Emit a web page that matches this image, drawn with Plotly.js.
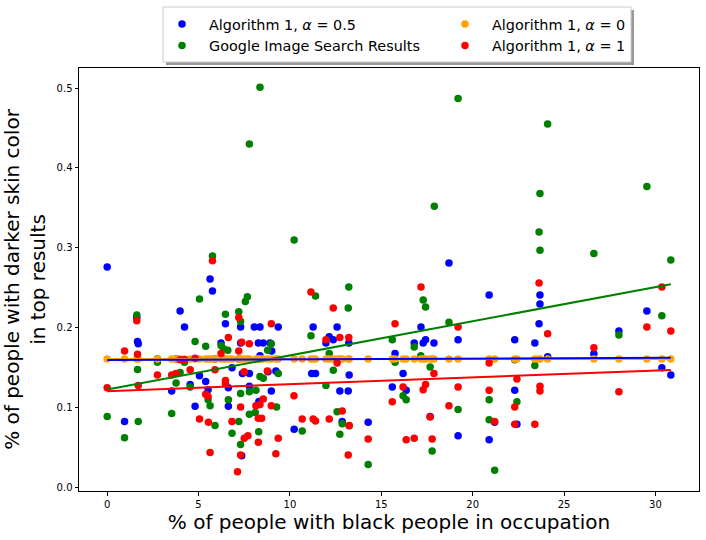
<!DOCTYPE html>
<html>
<head>
<meta charset="utf-8">
<script src="https://cdn.plot.ly/plotly-3.0.1.min.js"></script>
<style>html,body{margin:0;padding:0;background:#fff;}#chart{width:706px;height:540px;}</style>
</head>
<body>
<div id="chart"></div>
<script>
// Algorithm 1, alpha = 0.5 (blue)
const blueX = [0, 0.95, 1.62, 1.66, 1.70, 2.75, 3.53, 3.77, 3.99, 4.23, 4.54, 4.81, 5.05, 5.39, 5.52, 5.63, 5.76, 5.9, 6.23, 6.47, 6.63, 6.63, 6.83, 7.2, 7.3, 7.3, 7.36, 7.4, 7.78, 7.78, 8.05, 8.27, 8.3, 8.36, 8.36, 8.54, 8.8, 8.91, 8.98, 9.0, 9.23, 9.36, 10.23, 11.19, 11.27, 11.4, 11.97, 12.15, 12.37, 12.58, 12.73, 12.86, 13.19, 13.22, 13.24, 14.28, 15.6, 15.75, 16.19, 16.36, 16.8, 17.17, 17.29, 17.42, 17.67, 17.88, 18.7, 19.2, 19.2, 20.9, 20.9, 21.2, 22.3, 22.3, 22.42, 23.4, 23.63, 23.68, 23.68, 24.1, 26.63, 28.0, 29.53, 30.35, 30.84];
const blueY = [0.276, 0.083, 0.213, 0.183, 0.180, 0.161, 0.121, 0.161, 0.221, 0.201, 0.129, 0.102, 0.140, 0.133, 0.1225, 0.261, 0.246, 0.161, 0.181, 0.205, 0.125, 0.102, 0.150, 0.161, 0.201, 0.181, 0.040, 0.143, 0.143, 0.127, 0.201, 0.181, 0.108, 0.201, 0.165, 0.181, 0.145, 0.181, 0.121, 0.171, 0.146, 0.201, 0.073, 0.143, 0.201, 0.143, 0.181, 0.189, 0.185, 0.201, 0.121, 0.083, 0.121, 0.181, 0.141, 0.082, 0.126, 0.168, 0.143, 0.122, 0.181, 0.201, 0.181, 0.185, 0.089, 0.181, 0.281, 0.185, 0.065, 0.241, 0.060, 0.082, 0.185, 0.122, 0.0795, 0.181, 0.205, 0.241, 0.230, 0.164, 0.1675, 0.196, 0.221, 0.150, 0.141];

// Google Image Search Results (green)
const greenX = [0, 0.95, 1.62, 1.66, 1.70, 2.75, 3.53, 3.77, 3.99, 4.23, 4.54, 4.81, 5.05, 5.39, 5.52, 5.63, 5.76, 5.9, 6.23, 6.37, 6.47, 6.6, 6.63, 6.83, 7.2, 7.2, 7.3, 7.3, 7.3, 7.56, 7.67, 7.78, 7.78, 7.78, 8.1, 8.14, 8.29, 8.36, 8.36, 8.54, 8.78, 8.98, 9.27, 9.36, 10.23, 10.67, 11.15, 11.4, 11.97, 12.15, 12.37, 12.58, 12.73, 12.86, 13.19, 13.22, 13.24, 14.28, 15.6, 15.75, 16.19, 16.36, 16.8, 17.16, 17.29, 17.42, 17.67, 17.78, 17.9, 18.7, 19.2, 19.2, 20.9, 20.9, 21.2, 22.3, 22.42, 23.4, 23.63, 23.68, 23.68, 24.1, 26.63, 28.0, 29.53, 30.35, 30.84];
const greenY = [0.089, 0.0625, 0.216, 0.148, 0.083, 0.157, 0.093, 0.131, 0.144, 0.157, 0.126, 0.183, 0.236, 0.177, 0.110, 0.1025, 0.290, 0.078, 0.178, 0.174, 0.217, 0.172, 0.110, 0.068, 0.220, 0.083, 0.208, 0.118, 0.054, 0.233, 0.239, 0.430, 0.120, 0.092, 0.094, 0.122, 0.070, 0.501, 0.139, 0.137, 0.172, 0.180, 0.101, 0.143, 0.310, 0.071, 0.190, 0.240, 0.128, 0.168, 0.147, 0.095, 0.067, 0.080, 0.225, 0.251, 0.0775, 0.029, 0.185, 0.157, 0.115, 0.110, 0.176, 0.165, 0.235, 0.226, 0.151, 0.046, 0.352, 0.207, 0.487, 0.098, 0.110, 0.085, 0.022, 0.160, 0.1075, 0.153, 0.320, 0.368, 0.297, 0.455, 0.293, 0.191, 0.377, 0.215, 0.285];

// Algorithm 1, alpha = 0 (orange)
const orangeX = [0, 0.95, 1.62, 1.66, 1.70, 2.75, 3.53, 3.77, 3.99, 4.23, 4.54, 4.81, 5.05, 5.39, 5.52, 5.63, 5.76, 5.9, 6.23, 6.37, 6.47, 6.63, 6.83, 7.2, 7.3, 7.36, 7.5, 7.67, 7.78, 8.14, 8.27, 8.36, 8.54, 8.78, 8.98, 9.23, 9.36, 10.23, 10.67, 11.15, 11.27, 11.4, 11.97, 12.15, 12.37, 12.58, 12.73, 12.86, 13.19, 13.24, 14.28, 15.6, 15.75, 16.19, 16.36, 16.8, 17.17, 17.29, 17.42, 17.67, 17.78, 17.88, 18.7, 19.2, 20.9, 21.2, 22.3, 22.42, 23.4, 23.63, 23.68, 24.1, 26.63, 28.0, 29.53, 30.35, 30.84];
const orangeY = [0.161, 0.161, 0.161, 0.161, 0.161, 0.161, 0.161, 0.161, 0.161, 0.161, 0.161, 0.161, 0.161, 0.161, 0.161, 0.161, 0.161, 0.161, 0.161, 0.161, 0.161, 0.161, 0.161, 0.161, 0.161, 0.161, 0.161, 0.161, 0.161, 0.161, 0.161, 0.161, 0.161, 0.161, 0.161, 0.161, 0.161, 0.161, 0.161, 0.161, 0.161, 0.161, 0.161, 0.161, 0.161, 0.161, 0.161, 0.161, 0.161, 0.161, 0.161, 0.161, 0.161, 0.161, 0.161, 0.161, 0.161, 0.161, 0.161, 0.161, 0.161, 0.161, 0.161, 0.161, 0.161, 0.161, 0.161, 0.161, 0.161, 0.161, 0.161, 0.161, 0.161, 0.161, 0.161, 0.161, 0.161];

// Algorithm 1, alpha = 1 (red)
const redX = [0, 0.95, 1.62, 1.66, 1.70, 2.75, 3.53, 3.77, 3.99, 4.23, 4.54, 4.81, 5.05, 5.39, 5.52, 5.54, 5.63, 5.76, 5.9, 6.23, 6.47, 6.47, 6.63, 6.83, 7.13, 7.2, 7.2, 7.3, 7.3, 7.36, 7.5, 7.5, 7.7, 7.78, 8.14, 8.27, 8.27, 8.36, 8.45, 8.54, 8.76, 8.98, 8.98, 9.23, 9.36, 10.22, 10.67, 11.15, 11.27, 11.4, 11.97, 12.15, 12.37, 12.58, 12.73, 12.86, 13.19, 13.22, 13.24, 14.28, 15.6, 15.75, 16.19, 16.36, 16.8, 17.17, 17.29, 17.42, 17.67, 17.78, 17.88, 18.7, 19.2, 19.2, 20.9, 20.9, 21.2, 22.3, 22.3, 22.42, 23.4, 23.63, 23.68, 23.68, 24.1, 26.63, 28.0, 29.53, 30.35, 30.84];
const redY = [0.125, 0.171, 0.209, 0.167, 0.128, 0.141, 0.141, 0.143, 0.160, 0.160, 0.1475, 0.162, 0.086, 0.117, 0.114, 0.082, 0.044, 0.284, 0.1475, 0.168, 0.134, 0.130, 0.188, 0.083, 0.020, 0.213, 0.171, 0.101, 0.041, 0.182, 0.145, 0.062, 0.065, 0.180, 0.1025, 0.087, 0.057, 0.104, 0.087, 0.111, 0.146, 0.205, 0.1025, 0.0425, 0.062, 0.115, 0.086, 0.245, 0.086, 0.0835, 0.185, 0.086, 0.225, 0.156, 0.188, 0.096, 0.041, 0.188, 0.078, 0.061, 0.1075, 0.205, 0.126, 0.060, 0.062, 0.251, 0.1225, 0.129, 0.0885, 0.061, 0.143, 0.1025, 0.201, 0.126, 0.156, 0.122, 0.083, 0.101, 0.0795, 0.136, 0.0795, 0.256, 0.127, 0.121, 0.1925, 0.175, 0.120, 0.201, 0.251, 0.196];

const seriesNames = ['Algorithm 1, <i>α</i> = 0.5', 'Google Image Search Results', 'Algorithm 1, <i>α</i> = 0', 'Algorithm 1, <i>α</i> = 1'];
const xTickVals = [0, 5, 10, 15, 20, 25, 30];
const yTickVals = [0.0, 0.1, 0.2, 0.3, 0.4, 0.5];

const COLORS = {blue: '#0000ff', green: '#008000', orange: '#ffa500', red: '#ff0000'};

// least-squares fit line over each series' own x span
function fitLine(xs, ys) {
  const n = xs.length;
  let sx = 0, sy = 0, sxx = 0, sxy = 0;
  for (let i = 0; i < n; i++) { sx += xs[i]; sy += ys[i]; sxx += xs[i]*xs[i]; sxy += xs[i]*ys[i]; }
  const m = (n*sxy - sx*sy) / (n*sxx - sx*sx);
  const b = (sy - m*sx) / n;
  const x0 = Math.min(...xs), x1 = Math.max(...xs);
  return {x: [x0, x1], y: [m*x0 + b, m*x1 + b]};
}

function scatter(xs, ys, color, name, legendId) {
  return {x: xs, y: ys, type: 'scatter', mode: 'markers', name: name, legend: legendId,
    marker: {color: color, size: 7.5, line: {width: 0}}, hoverinfo: 'x+y'};
}
function line(xs, ys, color) {
  const f = fitLine(xs, ys);
  return {x: f.x, y: f.y, type: 'scatter', mode: 'lines', showlegend: false,
    line: {color: color, width: 2}, hoverinfo: 'skip'};
}

const traces = [
  scatter(blueX, blueY, COLORS.blue, seriesNames[0], 'legend'),
  scatter(greenX, greenY, COLORS.green, seriesNames[1], 'legend'),
  scatter(orangeX, orangeY, COLORS.orange, seriesNames[2], 'legend2'),
  scatter(redX, redY, COLORS.red, seriesNames[3], 'legend2'),
  line(greenX, greenY, COLORS.green),
  line(redX, redY, COLORS.red),
  line(orangeX, orangeY, COLORS.orange),
  line(blueX, blueY, COLORS.blue)
];

const axisCommon = {
  showline: true, linecolor: '#000', linewidth: 1, mirror: true,
  ticks: 'outside', ticklen: 3.5, tickwidth: 1, tickcolor: '#000',
  showgrid: false, zeroline: false,
  tickfont: {family: 'DejaVu Sans', size: 10, color: '#000'}
};

const legendCommon = {
  orientation: 'v', yanchor: 'top', xanchor: 'left', y: 1.1418,
  bgcolor: 'rgba(0,0,0,0)', borderwidth: 0, itemwidth: 44,
  font: {family: 'DejaVu Sans', size: 14.4, color: '#000'},
  tracegroupgap: 0
};

const layout = {
  width: 706, height: 540,
  margin: {l: 79, r: 7, t: 68, b: 49},
  paper_bgcolor: '#fff', plot_bgcolor: '#fff',
  font: {family: 'DejaVu Sans', color: '#000'},
  xaxis: Object.assign({}, axisCommon, {
    range: [-1.542, 32.382], tickvals: xTickVals, ticktext: xTickVals.map(String),
    title: {text: '% of people with black people in occupation', font: {family: 'DejaVu Sans', size: 20, color: '#000'}, standoff: 6}
  }),
  yaxis: Object.assign({}, axisCommon, {
    range: [-0.0041, 0.5251], tickvals: yTickVals, ticktext: yTickVals.map(v => v.toFixed(1)),
    title: {text: '% of people with darker skin color<br>in top results', font: {family: 'DejaVu Sans', size: 20, color: '#000'}, standoff: 8}
  }),
  showlegend: true,
  legend: Object.assign({}, legendCommon, {x: 0.1226}),
  legend2: Object.assign({}, legendCommon, {x: 0.5790}),
  shapes: [
    {type: 'rect', xref: 'paper', yref: 'paper', x0: 0.1403, x1: 0.8952, y0: 1.0071, y1: 1.1371,
      fillcolor: '#9a9a9a', line: {width: 0}, layer: 'above'},
    {type: 'rect', xref: 'paper', yref: 'paper', x0: 0.1355, x1: 0.8903, y0: 1.0142, y1: 1.1442,
      fillcolor: '#ffffff', line: {color: '#cccccc', width: 1}, layer: 'above'}
  ]
};

Plotly.newPlot('chart', traces, layout, {displayModeBar: false, staticPlot: true});
</script>
</body>
</html>
